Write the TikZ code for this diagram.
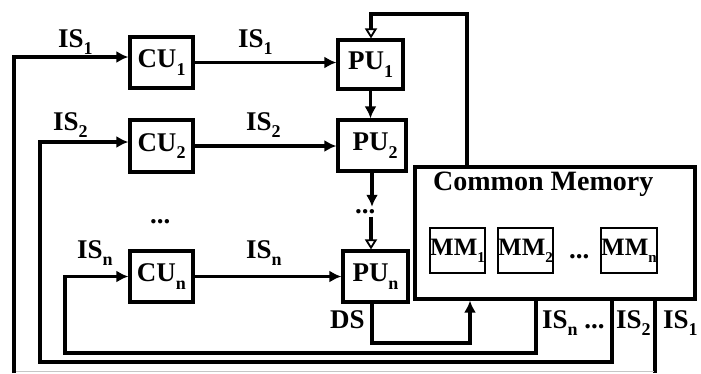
\documentclass[tikz,border=0pt]{standalone}
\usepackage{fontspec}
\setmainfont{Liberation Serif}
\usetikzlibrary{arrows.meta,calc}
\newcommand\sbs[1]{\raisebox{-0.28em}{\fontsize{18}{18}\selectfont #1}}
\newcommand\msbs[1]{\raisebox{-0.28em}{\fontsize{15}{15}\selectfont #1}}
\tikzset{
  unit/.style={draw, line width=3.2pt, inner sep=0pt, font=\fontsize{27}{29}\selectfont\bfseries},
  mmbox/.style={draw, line width=1.6pt, minimum width=55pt, minimum height=45pt, inner sep=0pt,
    font=\fontsize{25}{27}\selectfont\bfseries},
  lbl/.style={inner sep=0pt, anchor=base west, font=\fontsize{27}{29}\selectfont\bfseries},
  wire/.style={line width=3.2pt, line join=miter},
  arr/.style={wire, -{Latex[length=12pt,width=12pt]}},
  oarr/.style={wire, -{Triangle[open,length=10pt,width=12pt,line width=1.8pt]}}
}
\begin{document}
\begin{tikzpicture}[x=1pt,y=-1pt]
\useasboundingbox (0,0) rectangle (701,373);
\fill[white] (0,0) rectangle (701,373);

% control units
\node[unit, minimum width=63pt, minimum height=51pt] (CU1) at (161.5,62.5) {CU\sbs{1}};
\node[unit, minimum width=63pt, minimum height=52pt] (CU2) at (161.5,146) {CU\sbs{2}};
\node[unit, minimum width=63pt, minimum height=51pt] (CUn) at (161.5,276.5) {CU\sbs{n}};

% processing units
\node[unit, minimum width=65pt, minimum height=49pt] (PU1) at (370.5,64.5) {PU\sbs{1}};
\node[unit, minimum width=68pt, minimum height=51pt] (PU2) at (372,145.5) {\hspace*{6pt}PU\sbs{2}};
\node[unit, minimum width=65pt, minimum height=51pt] (PUn) at (375.5,276.5) {PU\sbs{n}};

% common memory with its modules
\node[unit, minimum width=280pt, minimum height=132pt] (CM) at (555,233) {};
\node[lbl, font=\fontsize{28}{30}\selectfont\bfseries] (CMt) at (433,190) {Common Memory};
\node[mmbox] (MM1) at (457.5,250.5) {MM\msbs{1}};
\node[mmbox] (MM2) at (525.5,250.5) {MM\msbs{2}};
\node[mmbox, minimum width=54pt] (MMn) at (629,250.5) {MM\msbs{n}};
\node[lbl] (mdots) at (569,258) {...};

% labels
\node[lbl] (is1a) at (58,47) {IS\sbs{1}};
\node[lbl] (is2a) at (53,130) {IS\sbs{2}};
\node[lbl] (isna) at (77,258) {IS\sbs{n}};
\node[lbl] (is1b) at (238,47) {IS\sbs{1}};
\node[lbl] (is2b) at (246,130) {IS\sbs{2}};
\node[lbl] (isnb) at (246,258) {IS\sbs{n}};
\node[lbl] (cdots) at (150,223) {...};
\node[lbl] (vdots) at (355,213) {...};
\node[lbl] (ds) at (330,328) {DS};
\node[lbl] (isnc) at (542,328) {IS\sbs{n} ...};
\node[lbl] (is2c) at (616,328) {IS\sbs{2}};
\node[lbl] (is1c) at (663,328) {IS\sbs{1}};

% reference points for the wires
\coordinate (l1) at (14,373);
\coordinate (l2) at (40,362);
\coordinate (ln) at (65,353);
\coordinate (x1) at (655,373);
\coordinate (x2) at (612,0);
\coordinate (xn) at (536,0);
\coordinate (xd) at (470,343);
\coordinate (xm) at (467,14);
\coordinate (tp) at (371,14);

% instruction streams from memory to control units
\draw[arr] (l1) |- ([yshift=5.5pt]CU1.west);
\draw[wire] (CM.south -| x1) -- (x1);
\draw[arr] (CM.south -| x2) |- (l2) |- ([yshift=4pt]CU2.west);
\draw[arr] (CM.south -| xn) |- (ln) |- (CUn.west);

% instruction streams from control units to processing units
\draw[arr] (CU1.east) -- (CU1.east -| PU1.west);
\draw[arr] (CU2.east) -- (CU2.east -| PU2.west);
\draw[arr] (CUn.east) -- (CUn.east -| PUn.west);

% chain of processing units
\draw[arr] (PU1.south) -- (PU1.south |- PU2.north);
\draw[arr] (PU2.south) -- ([yshift=2pt]PU2.south |- vdots.north);
\draw[oarr] ([yshift=-3pt]tp |- vdots.south) -- (tp |- PUn.north);

% feedback from memory and data stream
\draw[oarr] (CM.north -| xm) |- (tp) -- (tp |- PU1.north);
\draw[arr] ([xshift=-3.5pt]PUn.south) |- (xd) -- (CM.south -| xd);

% lower frame line
\draw[gray!45, line width=1pt] (16,371) -- (654,371);
\end{tikzpicture}
\end{document}
